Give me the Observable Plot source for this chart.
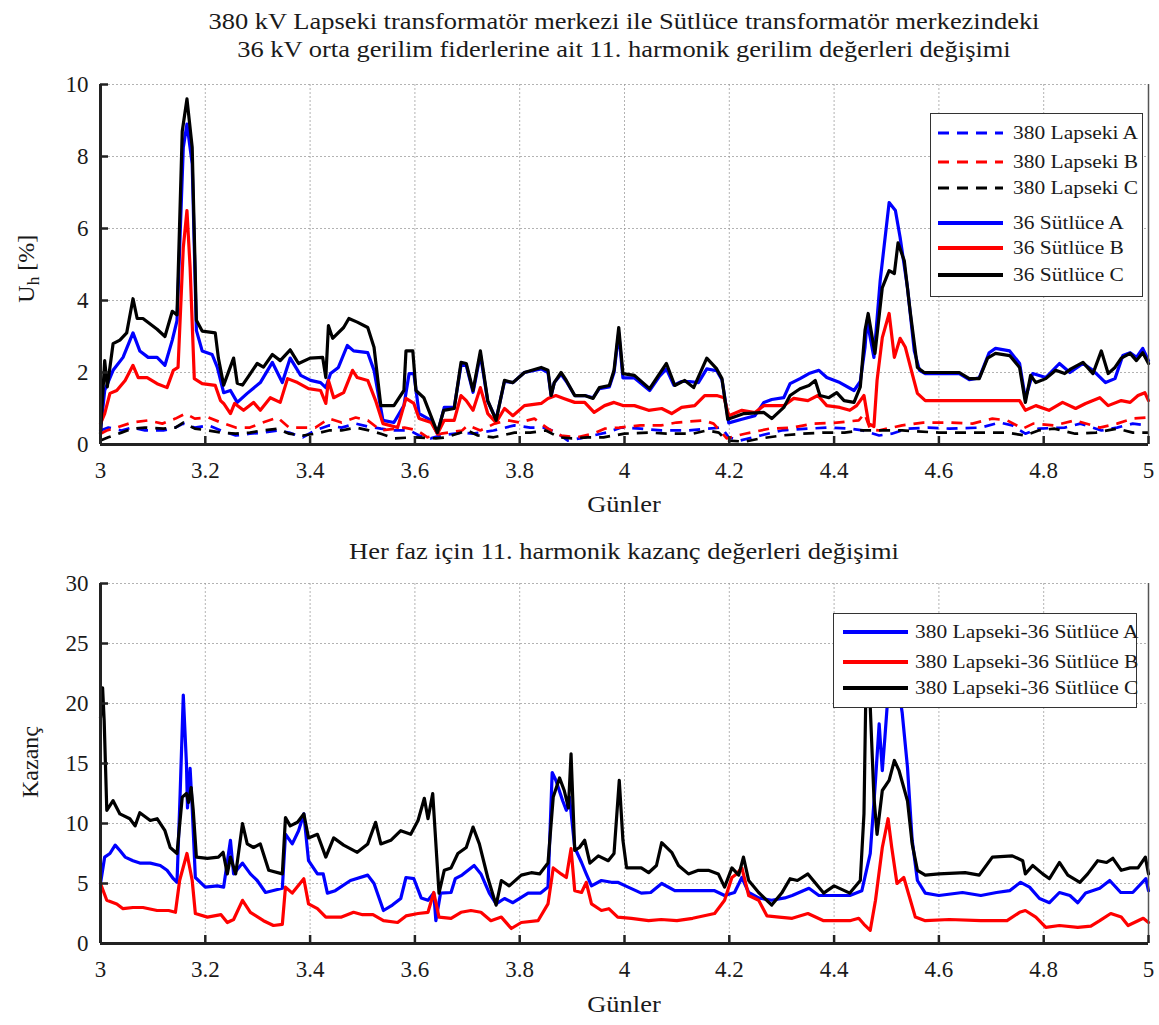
<!DOCTYPE html>
<html><head><meta charset="utf-8">
<script src="https://cdn.jsdelivr.net/npm/d3@7"></script>
<script src="https://cdn.jsdelivr.net/npm/@observablehq/plot@0.6"></script>
<style>
body{margin:0;background:#fff;}
#page{position:relative;width:1159px;height:1025px;background:#fff;font-family:"Liberation Serif","Times New Roman",serif;color:#1a1a1a;overflow:hidden}
.abs{position:absolute}
.ttl{left:100px;width:1048px;text-align:center;font-size:23px;line-height:28px;white-space:nowrap;transform:scaleX(1.15);transform-origin:50% 50%}
.ylab{width:200px;text-align:center;font-size:24px;line-height:28px;transform:rotate(-90deg)}
.leg{position:absolute;background:#fff;border:1.5px solid #333;box-sizing:border-box}
.legtxt{position:absolute;font-size:19.5px;line-height:20px;white-space:nowrap;transform:scaleX(1.1);transform-origin:0 50%}
</style></head><body><div id="page"></div>
<script>
// ---------- data ----------
const xTicks = [3, 3.2, 3.4, 3.6, 3.8, 4, 4.2, 4.4, 4.6, 4.8, 5];
const yTicksTop = [0, 2, 4, 6, 8, 10];
const yTicksBot = [0, 5, 10, 15, 20, 25, 30];

const title1 = "380 kV Lapseki transformatör merkezi ile Sütlüce transformatör merkezindeki";
const title2 = "36 kV orta gerilim fiderlerine ait 11. harmonik gerilim değerleri değişimi";
const titleBottom = "Her faz için 11. harmonik kazanç değerleri değişimi";
const xLabel = "Günler";

const topNames = ["380 Lapseki A", "380 Lapseki B", "380 Lapseki C", "36 Sütlüce A", "36 Sütlüce B", "36 Sütlüce C"];
const botNames = ["380 Lapseki-36 Sütlüce A", "380 Lapseki-36 Sütlüce B", "380 Lapseki-36 Sütlüce C"];

// Upper panel: 11th harmonic voltage [%]
const lapsekiA = [[3.0,0.39],[3.015,0.47],[3.04,0.39],[3.06,0.47],[3.085,0.39],[3.12,0.39],[3.143,0.47],[3.158,0.58],[3.18,0.47],[3.206,0.53],[3.23,0.39],[3.258,0.25],[3.285,0.3],[3.31,0.33],[3.338,0.39],[3.36,0.33],[3.386,0.2],[3.41,0.39],[3.436,0.53],[3.46,0.47],[3.487,0.58],[3.51,0.5],[3.535,0.44],[3.56,0.39],[3.59,0.39],[3.608,0.25],[3.63,0.17],[3.65,0.25],[3.69,0.33],[3.71,0.3],[3.75,0.39],[3.79,0.53],[3.82,0.47],[3.85,0.47],[3.873,0.3],[3.892,0.11],[3.915,0.17],[3.94,0.25],[3.965,0.33],[3.994,0.47],[4.03,0.44],[4.07,0.39],[4.12,0.39],[4.16,0.44],[4.185,0.47],[4.199,0.2],[4.22,0.11],[4.26,0.25],[4.3,0.39],[4.35,0.44],[4.39,0.47],[4.43,0.44],[4.455,0.39],[4.486,0.25],[4.51,0.3],[4.54,0.44],[4.58,0.47],[4.62,0.44],[4.68,0.47],[4.716,0.61],[4.74,0.53],[4.765,0.3],[4.79,0.44],[4.84,0.47],[4.87,0.58],[4.91,0.39],[4.94,0.47],[4.97,0.58],[5.0,0.53]];
const lapsekiB = [[3.0,0.3],[3.012,0.39],[3.031,0.47],[3.06,0.61],[3.091,0.67],[3.118,0.58],[3.143,0.72],[3.162,0.86],[3.18,0.72],[3.206,0.75],[3.23,0.61],[3.258,0.47],[3.285,0.47],[3.309,0.61],[3.338,0.75],[3.36,0.47],[3.41,0.47],[3.436,0.72],[3.46,0.61],[3.487,0.75],[3.51,0.67],[3.535,0.39],[3.58,0.47],[3.605,0.39],[3.624,0.2],[3.65,0.3],[3.69,0.39],[3.701,0.53],[3.725,0.39],[3.752,0.58],[3.777,0.67],[3.8,0.61],[3.828,0.72],[3.854,0.44],[3.879,0.25],[3.91,0.2],[3.94,0.3],[3.962,0.44],[3.99,0.47],[4.03,0.53],[4.07,0.53],[4.099,0.61],[4.151,0.67],[4.17,0.58],[4.195,0.17],[4.23,0.3],[4.277,0.44],[4.32,0.47],[4.36,0.58],[4.4,0.6],[4.447,0.67],[4.458,0.86],[4.469,0.42],[4.485,0.39],[4.53,0.53],[4.57,0.61],[4.62,0.61],[4.664,0.58],[4.702,0.72],[4.73,0.67],[4.76,0.44],[4.78,0.58],[4.82,0.53],[4.86,0.67],[4.907,0.47],[4.94,0.58],[4.97,0.72],[5.0,0.75]];
const lapsekiC = [[3.0,0.11],[3.015,0.2],[3.04,0.33],[3.06,0.44],[3.085,0.47],[3.12,0.44],[3.143,0.47],[3.158,0.61],[3.18,0.44],[3.206,0.39],[3.23,0.33],[3.258,0.3],[3.285,0.33],[3.309,0.39],[3.338,0.44],[3.36,0.3],[3.386,0.25],[3.41,0.3],[3.436,0.39],[3.46,0.39],[3.487,0.47],[3.51,0.4],[3.535,0.3],[3.56,0.17],[3.6,0.2],[3.64,0.17],[3.66,0.2],[3.7,0.39],[3.72,0.25],[3.75,0.2],[3.79,0.33],[3.82,0.33],[3.85,0.39],[3.875,0.2],[3.9,0.17],[3.93,0.2],[3.96,0.2],[3.98,0.25],[4.0,0.3],[4.048,0.33],[4.08,0.3],[4.13,0.3],[4.157,0.39],[4.18,0.33],[4.195,0.11],[4.23,0.08],[4.26,0.17],[4.3,0.25],[4.34,0.3],[4.38,0.33],[4.42,0.33],[4.45,0.39],[4.48,0.39],[4.53,0.39],[4.6,0.33],[4.7,0.33],[4.73,0.33],[4.765,0.25],[4.79,0.39],[4.82,0.44],[4.86,0.3],[4.9,0.33],[4.94,0.44],[4.97,0.33],[5.0,0.33]];
const sutluceA = [[3.0,0.39],[3.008,1.5],[3.024,2.06],[3.043,2.42],[3.062,3.1],[3.075,2.6],[3.091,2.42],[3.108,2.42],[3.123,2.2],[3.137,2.9],[3.146,3.44],[3.158,8.25],[3.165,8.9],[3.175,7.8],[3.183,3.17],[3.194,2.6],[3.213,2.5],[3.223,2.14],[3.235,1.44],[3.248,1.5],[3.261,1.17],[3.28,1.42],[3.305,1.72],[3.328,2.28],[3.347,1.72],[3.362,2.4],[3.382,1.92],[3.401,1.78],[3.42,1.72],[3.43,1.58],[3.439,1.97],[3.454,2.14],[3.471,2.75],[3.483,2.6],[3.51,2.55],[3.522,2.06],[3.539,0.67],[3.56,0.61],[3.579,1.08],[3.589,1.97],[3.598,1.97],[3.608,0.86],[3.631,0.67],[3.643,0.3],[3.656,1.03],[3.675,1.03],[3.688,2.2],[3.698,2.2],[3.711,1.45],[3.725,2.5],[3.739,1.2],[3.755,0.7],[3.771,1.75],[3.787,1.72],[3.809,2.0],[3.841,2.1],[3.854,2.0],[3.86,1.36],[3.866,1.72],[3.879,1.95],[3.889,1.75],[3.905,1.36],[3.924,1.36],[3.94,1.3],[3.952,1.55],[3.971,1.6],[3.98,2.0],[3.989,3.1],[3.997,1.85],[4.019,1.85],[4.048,1.5],[4.067,1.9],[4.08,2.1],[4.094,1.65],[4.109,1.75],[4.124,1.75],[4.141,1.72],[4.157,2.1],[4.176,2.05],[4.186,1.8],[4.199,0.6],[4.224,0.7],[4.249,0.8],[4.266,1.17],[4.281,1.25],[4.304,1.3],[4.316,1.69],[4.335,1.83],[4.352,1.97],[4.371,2.06],[4.386,1.86],[4.411,1.72],[4.438,1.5],[4.45,1.75],[4.459,2.7],[4.463,3.44],[4.476,2.42],[4.488,4.56],[4.505,6.72],[4.517,6.5],[4.526,5.75],[4.54,4.36],[4.553,2.6],[4.563,2.06],[4.574,1.97],[4.639,1.97],[4.658,1.8],[4.677,1.85],[4.696,2.55],[4.708,2.67],[4.735,2.6],[4.754,2.25],[4.765,1.28],[4.779,1.97],[4.804,1.86],[4.83,2.25],[4.85,2.0],[4.875,2.25],[4.894,2.06],[4.918,1.72],[4.936,1.83],[4.951,2.47],[4.965,2.55],[4.977,2.42],[4.989,2.67],[5.0,2.33]];
const sutluceB = [[3.0,0.58],[3.008,0.86],[3.018,1.42],[3.031,1.5],[3.047,1.78],[3.062,2.2],[3.072,1.86],[3.089,1.86],[3.108,1.69],[3.127,1.58],[3.139,2.06],[3.148,2.14],[3.158,5.47],[3.165,6.5],[3.171,4.92],[3.179,1.83],[3.194,1.69],[3.219,1.64],[3.229,1.22],[3.235,1.14],[3.248,0.86],[3.256,1.14],[3.273,0.95],[3.292,1.17],[3.305,0.95],[3.324,1.3],[3.343,1.17],[3.357,1.83],[3.376,1.72],[3.397,1.55],[3.42,1.5],[3.43,1.14],[3.435,1.78],[3.445,1.3],[3.464,1.44],[3.481,2.06],[3.49,1.86],[3.51,1.78],[3.525,1.22],[3.539,0.58],[3.567,0.47],[3.583,1.28],[3.598,1.14],[3.608,0.72],[3.631,0.61],[3.643,0.3],[3.656,0.67],[3.675,0.67],[3.688,1.36],[3.698,1.22],[3.711,0.95],[3.725,1.58],[3.739,0.86],[3.755,0.61],[3.771,1.0],[3.787,0.8],[3.809,1.08],[3.841,1.14],[3.854,1.28],[3.869,1.36],[3.884,1.28],[3.905,1.17],[3.924,1.17],[3.942,0.89],[3.962,1.08],[3.98,1.17],[3.997,1.08],[4.019,1.08],[4.046,0.95],[4.071,1.0],[4.09,0.86],[4.109,1.03],[4.134,1.08],[4.153,1.36],[4.176,1.36],[4.19,1.3],[4.199,0.8],[4.224,0.95],[4.249,0.89],[4.266,1.08],[4.304,1.08],[4.323,1.28],[4.35,1.22],[4.369,1.36],[4.386,1.08],[4.411,1.03],[4.43,0.95],[4.443,1.08],[4.457,1.36],[4.466,0.58],[4.476,0.5],[4.482,1.78],[4.492,2.97],[4.505,3.64],[4.515,2.42],[4.526,2.95],[4.536,2.7],[4.549,1.97],[4.559,1.42],[4.574,1.22],[4.645,1.22],[4.754,1.22],[4.765,0.95],[4.785,1.08],[4.81,0.95],[4.836,1.17],[4.861,1.0],[4.88,1.14],[4.907,1.3],[4.923,1.08],[4.948,1.22],[4.965,1.17],[4.98,1.36],[4.993,1.44],[5.0,1.22]];
const sutluceC = [[3.0,0.3],[3.008,2.33],[3.013,1.6],[3.024,2.8],[3.037,2.9],[3.05,3.1],[3.062,4.05],[3.07,3.5],[3.081,3.5],[3.108,3.2],[3.123,3.0],[3.137,3.7],[3.146,3.6],[3.156,8.7],[3.165,9.6],[3.175,8.25],[3.183,3.45],[3.194,3.15],[3.219,3.1],[3.225,2.4],[3.235,1.65],[3.254,2.4],[3.261,1.7],[3.271,1.65],[3.286,1.97],[3.299,2.25],[3.311,2.15],[3.328,2.5],[3.343,2.33],[3.362,2.63],[3.378,2.25],[3.4,2.4],[3.424,2.42],[3.43,1.86],[3.435,3.3],[3.443,2.95],[3.464,3.25],[3.474,3.5],[3.49,3.4],[3.51,3.25],[3.522,2.7],[3.535,1.08],[3.56,1.08],[3.579,1.5],[3.583,2.6],[3.596,2.6],[3.602,1.5],[3.617,1.3],[3.643,0.33],[3.655,0.95],[3.675,1.0],[3.688,2.28],[3.698,2.25],[3.711,1.5],[3.725,2.6],[3.739,1.22],[3.755,0.67],[3.771,1.78],[3.787,1.72],[3.809,2.0],[3.841,2.14],[3.854,2.06],[3.86,1.36],[3.866,1.72],[3.879,2.0],[3.889,1.78],[3.905,1.36],[3.924,1.36],[3.94,1.28],[3.952,1.58],[3.971,1.64],[3.98,2.06],[3.989,3.25],[3.997,1.97],[4.019,1.92],[4.048,1.55],[4.067,1.97],[4.08,2.25],[4.096,1.64],[4.115,1.78],[4.132,1.58],[4.157,2.4],[4.176,2.1],[4.186,1.83],[4.197,0.7],[4.228,0.86],[4.266,0.89],[4.281,0.72],[4.304,1.03],[4.316,1.36],[4.335,1.55],[4.352,1.64],[4.364,1.78],[4.373,1.36],[4.39,1.3],[4.405,1.44],[4.419,1.22],[4.438,1.17],[4.45,1.6],[4.459,3.17],[4.465,3.64],[4.478,2.53],[4.492,4.36],[4.505,4.83],[4.515,4.75],[4.522,5.6],[4.534,5.1],[4.545,3.72],[4.559,2.14],[4.572,2.0],[4.639,2.0],[4.658,1.83],[4.677,1.83],[4.693,2.4],[4.708,2.53],[4.735,2.47],[4.754,2.14],[4.765,1.17],[4.775,1.92],[4.785,1.72],[4.804,1.83],[4.823,2.06],[4.84,1.97],[4.852,2.1],[4.875,2.28],[4.894,1.97],[4.91,2.6],[4.923,1.97],[4.936,2.14],[4.948,2.4],[4.965,2.53],[4.977,2.33],[4.989,2.55],[5.0,2.25]];

// Lower panel: 11th harmonic gain per phase
const gainA = [[3.0,5.0],[3.008,7.2],[3.018,7.5],[3.028,8.2],[3.037,7.75],[3.047,7.2],[3.062,6.9],[3.075,6.7],[3.095,6.7],[3.114,6.5],[3.127,6.1],[3.139,5.4],[3.146,5.1],[3.152,12.5],[3.158,20.7],[3.164,15.0],[3.166,11.3],[3.171,14.6],[3.175,11.3],[3.181,5.5],[3.2,4.7],[3.223,4.8],[3.235,4.7],[3.248,8.6],[3.254,5.8],[3.271,6.7],[3.286,5.8],[3.299,5.25],[3.315,4.25],[3.347,4.6],[3.353,9.1],[3.366,8.3],[3.378,9.4],[3.388,10.8],[3.397,6.9],[3.414,5.8],[3.425,5.8],[3.433,4.2],[3.448,4.4],[3.477,5.25],[3.51,5.7],[3.522,5.0],[3.54,2.75],[3.557,3.2],[3.573,3.75],[3.583,5.5],[3.598,5.4],[3.612,3.8],[3.625,3.6],[3.636,4.2],[3.64,1.9],[3.649,4.2],[3.669,4.25],[3.677,5.4],[3.69,5.7],[3.713,6.5],[3.726,5.8],[3.742,4.2],[3.755,3.3],[3.771,3.75],[3.787,3.4],[3.816,4.2],[3.84,4.2],[3.854,4.7],[3.862,14.25],[3.869,13.6],[3.882,11.9],[3.889,11.1],[3.895,12.2],[3.905,8.0],[3.918,6.75],[3.927,5.8],[3.937,4.8],[3.956,5.25],[3.975,5.1],[3.987,5.1],[4.007,4.7],[4.032,4.2],[4.05,4.25],[4.071,5.0],[4.096,4.4],[4.15,4.4],[4.172,4.4],[4.191,4.0],[4.21,4.25],[4.224,5.5],[4.237,4.25],[4.256,3.8],[4.281,3.6],[4.306,3.8],[4.32,4.0],[4.352,4.6],[4.371,4.0],[4.43,4.0],[4.453,4.4],[4.469,7.5],[4.479,13.6],[4.486,18.3],[4.492,14.4],[4.497,17.2],[4.505,22],[4.515,23.5],[4.524,21],[4.53,19.2],[4.54,14.7],[4.549,8.6],[4.559,5.25],[4.574,4.2],[4.6,4.0],[4.645,4.25],[4.68,4.0],[4.71,4.25],[4.735,4.4],[4.756,5.1],[4.773,4.7],[4.792,3.75],[4.811,3.4],[4.83,4.25],[4.85,4.0],[4.865,3.4],[4.88,4.2],[4.907,4.6],[4.926,5.25],[4.947,4.25],[4.97,4.25],[4.995,5.4],[5.0,4.4]];
const gainB = [[3.0,5.0],[3.012,3.6],[3.031,3.3],[3.043,2.9],[3.062,3.0],[3.081,3.0],[3.108,2.75],[3.13,2.75],[3.143,2.6],[3.151,5.25],[3.165,7.5],[3.175,5.25],[3.181,2.5],[3.204,2.2],[3.23,2.4],[3.242,1.75],[3.254,2.0],[3.271,3.6],[3.286,2.6],[3.311,1.9],[3.33,1.5],[3.347,1.6],[3.353,4.7],[3.366,4.2],[3.388,5.4],[3.397,3.3],[3.414,2.9],[3.43,2.2],[3.46,2.2],[3.483,2.6],[3.5,2.4],[3.52,2.4],[3.54,1.9],[3.567,1.75],[3.583,2.3],[3.606,2.5],[3.625,2.6],[3.636,4.25],[3.646,2.2],[3.669,2.1],[3.688,2.6],[3.707,2.75],[3.726,2.6],[3.745,1.9],[3.765,2.2],[3.784,1.25],[3.803,1.75],[3.835,1.9],[3.854,3.3],[3.864,6.3],[3.879,5.8],[3.889,5.5],[3.898,7.9],[3.905,4.4],[3.918,4.25],[3.927,5.1],[3.937,3.3],[3.956,2.75],[3.97,2.9],[3.987,2.2],[4.013,2.1],[4.046,1.9],[4.07,2.0],[4.1,1.9],[4.13,2.1],[4.172,2.5],[4.191,3.6],[4.205,5.5],[4.214,5.8],[4.224,6.3],[4.237,4.0],[4.256,3.6],[4.272,2.3],[4.295,2.2],[4.32,2.1],[4.35,2.5],[4.38,1.9],[4.43,1.9],[4.447,2.1],[4.457,1.6],[4.469,1.1],[4.479,3.6],[4.492,8.0],[4.503,10.4],[4.51,8.0],[4.52,5.0],[4.533,5.5],[4.543,4.0],[4.555,2.2],[4.574,1.9],[4.62,2.0],[4.68,1.9],[4.73,1.9],[4.754,2.6],[4.765,2.75],[4.785,2.2],[4.804,1.35],[4.83,1.5],[4.865,1.35],[4.89,1.45],[4.907,1.9],[4.928,2.5],[4.948,2.2],[4.961,1.5],[4.99,2.1],[5.0,1.75]];
const gainC = [[3.0,18.8],[3.004,21.3],[3.007,18.6],[3.012,11.1],[3.024,11.9],[3.037,10.8],[3.056,10.4],[3.066,9.8],[3.075,10.9],[3.095,10.25],[3.108,10.4],[3.123,9.4],[3.133,8.0],[3.146,7.5],[3.156,12.2],[3.164,12.5],[3.168,11.75],[3.173,13.0],[3.177,11.1],[3.183,7.2],[3.204,7.1],[3.225,7.2],[3.234,7.6],[3.242,5.8],[3.248,7.2],[3.258,5.8],[3.271,10.0],[3.28,8.3],[3.292,8.0],[3.305,8.3],[3.321,6.1],[3.347,5.8],[3.353,10.5],[3.362,9.8],[3.376,10.1],[3.388,10.8],[3.397,8.8],[3.414,9.1],[3.43,7.2],[3.445,8.8],[3.464,8.2],[3.49,7.6],[3.51,8.3],[3.525,10.1],[3.535,8.3],[3.554,8.6],[3.573,9.4],[3.592,9.1],[3.606,10.25],[3.618,12.1],[3.625,10.4],[3.634,12.5],[3.646,4.2],[3.656,6.1],[3.669,6.3],[3.682,7.5],[3.698,8.0],[3.711,9.7],[3.723,8.3],[3.739,5.5],[3.755,3.2],[3.765,5.25],[3.78,4.8],[3.803,5.7],[3.822,5.9],[3.838,5.8],[3.854,6.7],[3.864,12.2],[3.876,13.8],[3.885,12.75],[3.893,11.3],[3.898,15.8],[3.905,7.75],[3.914,8.0],[3.924,8.6],[3.934,6.7],[3.95,7.3],[3.969,6.9],[3.98,7.5],[3.99,13.6],[3.997,8.6],[4.004,6.3],[4.032,6.3],[4.046,5.9],[4.061,6.5],[4.071,8.4],[4.09,7.6],[4.103,6.5],[4.122,5.8],[4.141,6.1],[4.16,6.1],[4.179,5.8],[4.191,4.7],[4.205,6.3],[4.218,5.7],[4.227,7.2],[4.237,5.25],[4.256,4.25],[4.281,3.2],[4.3,4.2],[4.316,5.4],[4.33,5.25],[4.35,5.8],[4.38,4.2],[4.4,4.8],[4.43,4.2],[4.45,5.25],[4.457,10.8],[4.461,22],[4.464,27],[4.467,22],[4.469,19.7],[4.476,12.2],[4.482,9.1],[4.492,12.75],[4.505,13.6],[4.515,15.25],[4.524,14.4],[4.54,11.9],[4.549,8.3],[4.559,6.1],[4.574,5.7],[4.6,5.8],[4.65,5.9],[4.677,5.7],[4.702,7.2],[4.74,7.3],[4.76,6.9],[4.765,5.8],[4.779,6.5],[4.798,5.8],[4.811,5.4],[4.83,6.75],[4.846,5.7],[4.869,5.1],[4.884,5.8],[4.903,6.9],[4.92,6.75],[4.932,7.1],[4.948,6.1],[4.965,6.3],[4.98,6.3],[4.994,7.2],[5.0,5.8]];

// ---------- styling ----------
const BLUE = "#0000ff", RED = "#ff0000", BLACK = "#000000";
const DASH = "11,8";
const topSeries = [
  {name: topNames[0], data: lapsekiA, color: BLUE, dash: true},
  {name: topNames[1], data: lapsekiB, color: RED, dash: true},
  {name: topNames[2], data: lapsekiC, color: BLACK, dash: true},
  {name: topNames[3], data: sutluceA, color: BLUE, dash: false},
  {name: topNames[4], data: sutluceB, color: RED, dash: false},
  {name: topNames[5], data: sutluceC, color: BLACK, dash: false}
];
const botSeries = [
  {name: botNames[0], data: gainA, color: BLUE, dash: false},
  {name: botNames[1], data: gainB, color: RED, dash: false},
  {name: botNames[2], data: gainC, color: BLACK, dash: false}
];

function panel(series, yDomain, yTicks, height, mt, mb) {
  return Plot.plot({
    width: 1159, height, marginLeft: 100, marginRight: 11, marginTop: mt, marginBottom: mb,
    style: {background: "transparent", fontFamily: "'Liberation Serif', 'Times New Roman', serif", fontSize: "23px", color: "#1a1a1a", overflow: "visible"},
    x: {domain: [3, 5]},
    y: {domain: yDomain},
    marks: [
      Plot.gridX(xTicks, {stroke: "#9a9a9a", strokeOpacity: 0.75, strokeDasharray: "2,2"}),
      Plot.gridY(yTicks, {stroke: "#9a9a9a", strokeOpacity: 0.75, strokeDasharray: "2,2"}),
      ...series.map(s => Plot.line(s.data, {
        x: d => d[0], y: d => d[1], stroke: s.color,
        strokeWidth: s.dash ? 2.7 : 3.2, strokeDasharray: s.dash ? DASH : null,
        strokeLinejoin: "round", strokeLinecap: s.dash ? "butt" : "round"
      })),
      Plot.ruleX([5], {stroke: "#555", strokeWidth: 1.5}),
      Plot.ruleX([3], {stroke: "#222", strokeWidth: 3}),
      Plot.ruleY([yDomain[0]], {stroke: "#222", strokeWidth: 3}),
      Plot.axisX(xTicks, {tickSize: -8, tickPadding: 25, strokeWidth: 2.5, stroke: "#222", tickFormat: d => String(d), label: null}),
      Plot.axisY(yTicks, {tickSize: -8, tickPadding: 20, strokeWidth: 2.5, stroke: "#222", tickFormat: d => String(d), label: null})
    ]
  });
}

// ---------- layout ----------
const page = document.getElementById("page");
function add(html, cls, css) {
  const el = document.createElement("div");
  el.className = "abs " + (cls || "");
  el.innerHTML = html;
  Object.assign(el.style, css);
  page.appendChild(el);
  return el;
}

const svgTop = panel(topSeries, [0, 10], yTicksTop, 466, 20, 86);
const wrapTop = add("", "", {left: "0px", top: "64px"});
wrapTop.appendChild(svgTop);

const svgBot = panel(botSeries, [0, 30], yTicksBot, 462, 20, 82);
const wrapBot = add("", "", {left: "0px", top: "563px"});
wrapBot.appendChild(svgBot);

add(title1 + "<br>" + title2, "ttl", {top: "8px"});
add(xLabel, "ttl", {top: "491px"});
add(titleBottom, "ttl", {top: "538px"});
add(xLabel, "ttl", {top: "991px"});
add("U<sub style='font-size:0.72em;vertical-align:-0.25em'>h</sub> [%]", "ylab", {left: "-70px", top: "251px"});
add("Kazanç", "ylab", {left: "-70px", top: "748px"});

function legend(series, box, rows, sampleX, textX) {
  add("", "leg", {left: box[0] + "px", top: box[1] + "px", width: (box[2] - box[0]) + "px", height: (box[3] - box[1]) + "px"});
  series.forEach((s, i) => {
    const y = rows[i];
    const w = sampleX[1] - sampleX[0];
    add(`<svg width="${w}" height="8" style="display:block"><line x1="0" y1="4" x2="${w}" y2="4" stroke="${s.color}" stroke-width="${s.dash ? 3 : 4}" ${s.dash ? `stroke-dasharray="${DASH}"` : ""}/></svg>`, "", {left: sampleX[0] + "px", top: (y - 4) + "px"});
    add(s.name, "legtxt", {left: textX + "px", top: (y - 10) + "px"});
  });
}
legend(topSeries, [930, 113, 1143, 297], [133, 162, 188, 223, 248, 275], [938, 1003], 1013);
legend(botSeries, [833, 613, 1137, 708], [632, 662, 688], [843, 908], 915);
</script></body></html>
